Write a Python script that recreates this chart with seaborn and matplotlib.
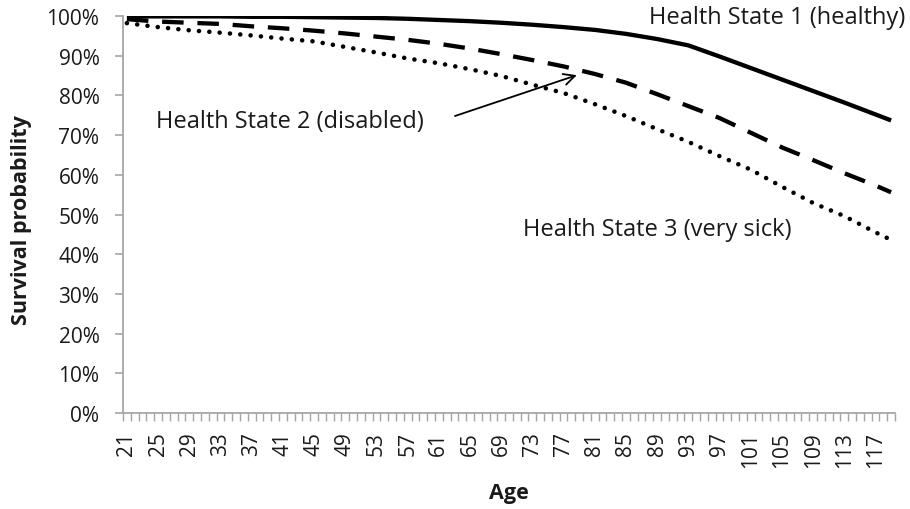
import matplotlib
matplotlib.use("Agg")
import matplotlib.pyplot as plt
from matplotlib.ticker import FixedLocator, FuncFormatter
import seaborn as sns
import pandas as pd

# Survival probability (%) by age for three health states
ages = [21, 25, 29, 33, 37, 41, 45, 49, 53, 57, 61, 65, 69, 73, 77, 81,
        85, 89, 93, 97, 101, 105, 109, 113, 117, 119]
healthy = [99.9, 99.9, 99.9, 99.9, 99.8, 99.8, 99.7, 99.6, 99.5, 99.3, 99.0,
           98.7, 98.3, 97.8, 97.2, 96.5, 95.5, 94.2, 92.6, 89.8, 86.9, 84.0,
           81.1, 78.2, 75.2, 73.7]
disabled = [99.2, 98.6, 98.3, 98.0, 97.4, 96.9, 96.3, 95.6, 94.8, 94.0, 93.0,
            91.8, 90.4, 88.9, 87.3, 85.4, 83.2, 80.3, 77.3, 74.3, 70.6, 66.9,
            63.7, 60.4, 57.3, 55.6]
very_sick = [98.2, 97.2, 96.4, 95.8, 95.1, 94.3, 93.6, 92.2, 90.8, 89.3, 88.1,
             86.6, 84.9, 82.7, 80.6, 77.8, 74.8, 71.5, 68.3, 64.7, 61.3, 57.0,
             52.9, 49.6, 45.5, 43.6]

age_min, age_max = 21, 119
label_ages = list(range(21, 118, 4))

sns.set_theme(style="white")
plt.rcParams["font.family"] = ["Open Sans", "DejaVu Sans"]

W, H = 910, 510
fig = plt.figure(figsize=(W / 100, H / 100), dpi=100)
ax = fig.add_axes([123 / W, 1 - 414 / H, 772 / W, 397 / H])

df = pd.DataFrame({"age": ages, "healthy": healthy,
                   "disabled": disabled, "very_sick": very_sick})

sns.lineplot(data=df, x="age", y="healthy", ax=ax, color="black",
             linewidth=3.1, solid_capstyle="butt", solid_joinstyle="round")
sns.lineplot(data=df, x="age", y="disabled", ax=ax, color="black",
             linewidth=3.1, linestyle=(0, (5.0, 3.2)), dash_capstyle="butt")
sns.lineplot(data=df, x="age", y="very_sick", ax=ax, color="black",
             linewidth=3.3, linestyle=(0, (0.01, 2.25)), dash_capstyle="round")

ax.set_xlim(age_min - 0.5, age_max + 0.5)
ax.set_ylim(0, 100)

# y axis: 0%..100% with short outward ticks
ax.yaxis.set_major_locator(FixedLocator(list(range(0, 101, 10))))
ax.yaxis.set_major_formatter(FuncFormatter(lambda v, p: f"{v:.0f}%"))

# x axis: category boundaries as tick marks, every fourth age labelled
ax.xaxis.set_major_locator(FixedLocator(label_ages))
ax.xaxis.set_minor_locator(FixedLocator([a - 0.5 for a in range(age_min, age_max + 2)]))
ax.set_xticklabels([str(a) for a in label_ages], rotation=90)

gray = "#a6a6a6"
text_color = "#1a1a1a"
for side in ("top", "right"):
    ax.spines[side].set_visible(False)
for side in ("left", "bottom"):
    ax.spines[side].set_color(gray)
    ax.spines[side].set_linewidth(1.3)

ax.tick_params(axis="y", which="major", direction="out", length=6, width=1.2,
               color=gray, left=True, labelsize=15, labelcolor=text_color, pad=11)
ax.tick_params(axis="x", which="major", length=0, labelsize=15,
               labelcolor=text_color, pad=13)
ax.tick_params(axis="x", which="minor", direction="out", length=6, width=1.0,
               color=gray, bottom=True)

ax.set_xlabel("Age", fontsize=15.5, fontweight="bold", color=text_color)
ax.set_ylabel("Survival probability", fontsize=15.5, fontweight="bold",
              color=text_color)
ax.xaxis.label.set(va="center", ha="center")
ax.yaxis.label.set(va="center", ha="center")
ax.xaxis.set_label_coords(0.5, (414 - 494) / 397)
ax.yaxis.set_label_coords((22 - 123) / 772, (414 - 220) / 397)
ax.grid(False)

# State annotations (positions in figure pixels, origin bottom-left)
label_kw = dict(fontsize=17, color=text_color, va="baseline",
                xycoords="figure pixels", annotation_clip=False)
ax.annotate("Health State 1 (healthy)", xy=(905, H - 24), ha="right", **label_kw)
ax.annotate("Health State 2 (disabled)", xy=(156, H - 128), ha="left", **label_kw)
ax.annotate("Health State 3 (very sick)", xy=(523, H - 236), ha="left", **label_kw)

# Arrow pointing at the disabled-state curve
ax.annotate("", xy=(78.7, 85.1), xycoords="data",
            xytext=(455, H - 117), textcoords="figure pixels",
            arrowprops=dict(arrowstyle="->", color="black", lw=1.3,
                            shrinkA=0, shrinkB=0, mutation_scale=20))

fig.savefig("out.png", dpi=100)
